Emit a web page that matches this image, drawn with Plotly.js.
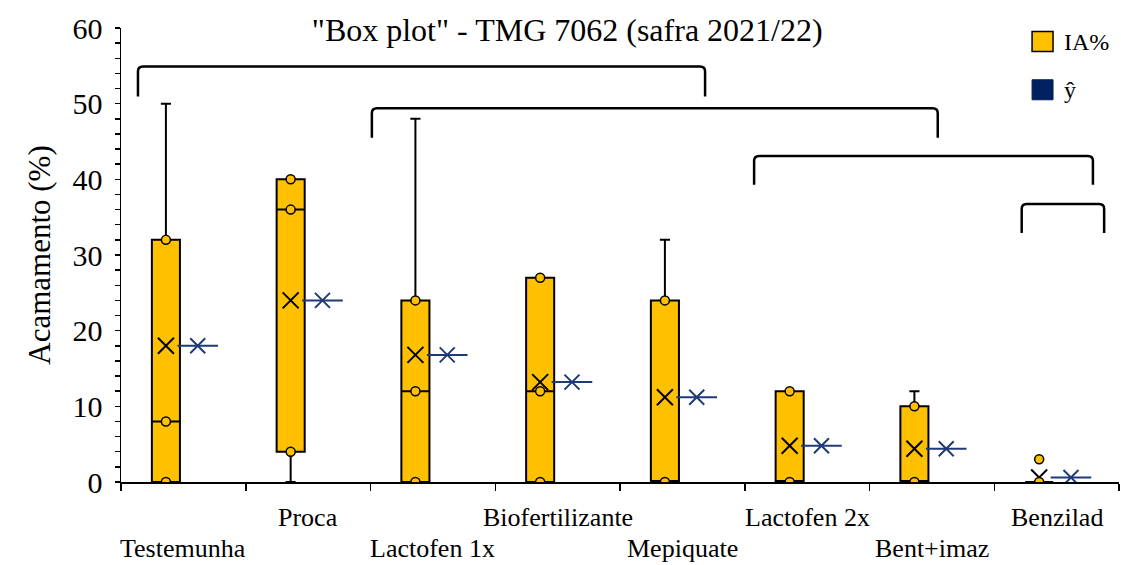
<!DOCTYPE html>
<html>
<head>
<meta charset="utf-8">
<script src="https://cdn.plot.ly/plotly-3.0.1.min.js"></script>
<style>
  html, body { margin: 0; padding: 0; background: #fff; }
  #chart { width: 1121px; height: 565px; }
</style>
</head>
<body>
<div id="chart"></div>
<script>
// Treatments (lodging, TMG 7062, 2021/22 season)
const categories = ['Testemunha', 'Proca', 'Lactofen 1x', 'Biofertilizante', 'Mepiquate', 'Lactofen 2x', 'Bent+imaz', 'Benzilad'];

// Box statistics for IA%
const q1         = [0, 4, 0, 0, 0, 0, 0, 0];
const median     = [8, 36, 12, 12, 0, 0, 0, 0];
const q3         = [32, 40, 24, 27, 24, 12, 10, 0];
const lowerFence = [0, 0, 0, 0, 0, 0, 0, 0];
const upperFence = [50, 40, 48, 27, 32, 12, 12, 0];
const meanIA     = [18, 24, 16.8, 13.2, 11.2, 4.8, 4.4, 0.6];

// Individual observations drawn as points inside each box
const innerPoints = [[0, 8, 32], [4, 36, 40], [0, 12, 24], [0, 12, 27], [0, 24], [0, 12], [0, 10], [0, 3]];

// Estimated value (ŷ) per treatment
const yHat = [18, 24, 16.8, 13.2, 11.2, 4.8, 4.4, 0.6];

const seriesNames = ['IA%', 'ŷ'];
const yTicks = [0, 10, 20, 30, 40, 50, 60];

// Significance groups drawn as brackets: [xStart, xEnd, yTop, yEnd] in axis units
const brackets = [
  [-0.364, 4.182, 54.9, 50.95],
  [1.511, 6.047, 49.4, 45.5],
  [4.575, 7.291, 43.1, 39.3],
  [6.72, 7.381, 36.75, 32.9]
];

const FONT = 'Liberation Serif, "Times New Roman", serif';
const ORANGE = '#FFC000';
const NAVY = '#002060';
const STAR = '#1F3A78';
const BOX_SHIFT = -0.14;
const STAR_SHIFT = 0.115;

const boxX = categories.map((_, i) => i + BOX_SHIFT);
const starX = categories.map((_, i) => i + STAR_SHIFT);

const ptX = [], ptY = [];
innerPoints.forEach((pts, i) => pts.forEach(v => { ptX.push(i + BOX_SHIFT); ptY.push(v); }));

const traces = [
  {
    type: 'box', name: seriesNames[0], x: boxX,
    q1: q1, median: median, q3: q3, lowerfence: lowerFence, upperfence: upperFence,
    width: 0.225, whiskerwidth: 0.36, boxpoints: false,
    fillcolor: ORANGE, line: { color: '#000', width: 2 },
    showlegend: false, hoverinfo: 'skip'
  },
  {
    type: 'scatter', mode: 'markers', name: 'média', x: boxX, y: meanIA,
    marker: { symbol: 'x-thin-open', size: 16, color: '#000', line: { color: '#000', width: 2 } },
    showlegend: false
  },
  {
    type: 'scatter', mode: 'markers', name: 'pontos', x: ptX, y: ptY,
    marker: { symbol: 'circle', size: 9, color: ORANGE, line: { color: '#000', width: 1.5 } },
    showlegend: false
  },
  {
    type: 'scatter', mode: 'markers', name: seriesNames[1], x: starX, y: yHat,
    marker: { symbol: 'line-ew-open', size: 29, color: STAR, line: { color: STAR, width: 2 } },
    showlegend: false
  },
  {
    type: 'scatter', mode: 'markers', name: seriesNames[1], x: starX, y: yHat,
    marker: { symbol: 'x-thin-open', size: 15, color: STAR, line: { color: STAR, width: 2 } },
    showlegend: false
  }
];

// Brackets with slightly rounded corners
const rx = 0.04, ry = 0.66;
const shapes = brackets.map(([x0, x1, yt, yb]) => ({
  type: 'path', xref: 'x', yref: 'y', layer: 'above',
  path: `M ${x0},${yb} L ${x0},${yt - ry} Q ${x0},${yt} ${x0 + rx},${yt} L ${x1 - rx},${yt} Q ${x1},${yt} ${x1},${yt - ry} L ${x1},${yb}`,
  line: { color: '#000', width: 2.5 }
}));

// Legend swatches
shapes.push(
  { type: 'rect', xref: 'paper', yref: 'paper', x0: 0.9129, x1: 0.9339, y0: 0.9484, y1: 0.9925,
    fillcolor: ORANGE, line: { color: '#000', width: 1.5 } },
  { type: 'rect', xref: 'paper', yref: 'paper', x0: 0.9129, x1: 0.9339, y0: 0.8419, y1: 0.886,
    fillcolor: NAVY, line: { color: NAVY, width: 1 } }
);

const annotations = [
  { xref: 'paper', yref: 'paper', x: 0.9429, y: 0.9698, xanchor: 'left', yanchor: 'middle',
    text: seriesNames[0], showarrow: false, font: { family: FONT, size: 24, color: '#000' } },
  { xref: 'paper', yref: 'paper', x: 0.9429, y: 0.8639, xanchor: 'left', yanchor: 'middle',
    text: seriesNames[1], showarrow: false, font: { family: FONT, size: 24, color: '#000' } }
];

// Category labels, staggered on two rows
categories.forEach((c, i) => {
  annotations.push({
    xref: 'x', yref: 'paper', x: i, y: i % 2 === 1 ? -0.078 : -0.146,
    xanchor: 'center', yanchor: 'middle', text: c, showarrow: false,
    font: { family: FONT, size: 26, color: '#000' }
  });
});

const layout = {
  width: 1121, height: 565,
  margin: { l: 121, r: 2, t: 28, b: 83 },
  paper_bgcolor: '#fff', plot_bgcolor: '#fff',
  showlegend: false,
  font: { family: FONT, color: '#000' },
  title: {
    text: '"Box plot" - TMG 7062 (safra 2021/22)',
    font: { family: FONT, size: 32, color: '#000' },
    xref: 'container', x: 0.506, xanchor: 'center',
    yref: 'container', y: 0.947, yanchor: 'middle'
  },
  xaxis: {
    type: 'linear', range: [-0.5, 7.5],
    tickvals: categories.map((_, i) => i - 0.5).concat([categories.length - 0.5]),
    ticktext: categories.map(() => '').concat(['']),
    ticks: 'outside', ticklen: 7, tickwidth: 1.5, tickcolor: '#000',
    showline: true, linecolor: '#000', linewidth: 1.5,
    showgrid: false, zeroline: false, fixedrange: true
  },
  yaxis: {
    range: [0, 60], tickvals: yTicks, ticktext: yTicks.map(String),
    ticks: 'outside', ticklen: 5, tickwidth: 1.5, tickcolor: '#000',
    minor: { dtick: 2, ticks: 'outside', ticklen: 5, tickwidth: 1.5, tickcolor: '#000' },
    tickfont: { family: FONT, size: 30, color: '#000' },
    ticklabelstandoff: 6,
    showline: true, linecolor: '#000', linewidth: 1.5,
    showgrid: false, zeroline: false, fixedrange: true,
    title: { text: 'Acamamento (%)', font: { family: FONT, size: 31, color: '#000' }, standoff: 12 }
  },
  shapes: shapes,
  annotations: annotations
};

Plotly.newPlot('chart', traces, layout, { staticPlot: true, displayModeBar: false });
</script>
</body>
</html>
